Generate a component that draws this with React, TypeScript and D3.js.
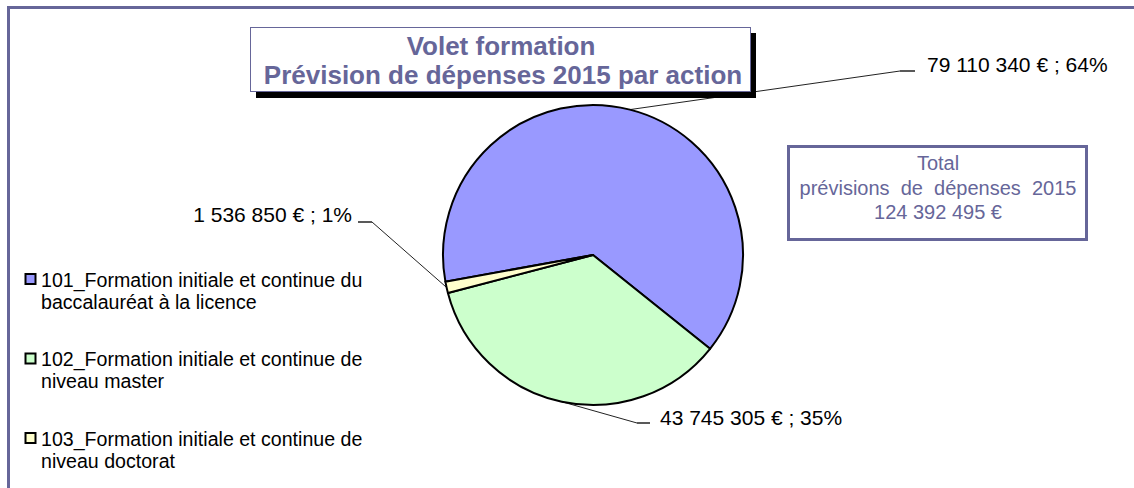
import React from "react";
import * as d3 from "d3";

const categories = [
  "101_Formation initiale et continue du baccalauréat à la licence",
  "102_Formation initiale et continue de niveau master",
  "103_Formation initiale et continue de niveau doctorat",
];
const legendLines = [
  ["101_Formation initiale et continue du", "baccalauréat à la licence"],
  ["102_Formation initiale et continue de", "niveau master"],
  ["103_Formation initiale et continue de", "niveau doctorat"],
];
const values = [79110340, 43745305, 1536850];
const colors = ["#9999FF", "#CCFFCC", "#FFFFCC"];
const titleLines = ["Volet formation", "Prévision de dépenses 2015 par action"];
const totalLines = ["Total", "prévisions  de  dépenses  2015"];

const W = 1134;
const H = 488;
const CX = 593;
const CY = 255;
const R = 150;
const START_DEG = -100.25;
const FRAME = "#666699";
const FONT = "'Liberation Sans', Arial, Helvetica, sans-serif";

// label layout: elbow point (end of slanted leader), horizontal end, text anchor
const labelLayout = [
  { ex: 900, ey: 71, hx: 915, tx: 927, ty: 72, anchor: "start" },
  { ex: 637, ey: 423, hx: 650, tx: 660, ty: 425, anchor: "start" },
  { ex: 372, ey: 222, hx: 358, tx: 352, ty: 222, anchor: "end" },
];

const locale = d3.formatLocale({
  decimal: ",",
  thousands: " ",
  grouping: [3],
  currency: ["", " €"],
});
const fmt = locale.format(",d");

export default function App() {
  const total = d3.sum(values);
  const toRad = (d: number) => (d * Math.PI) / 180;
  const pie = d3
    .pie<number>()
    .sort(null)
    .value((d) => d)
    .startAngle(toRad(START_DEG))
    .endAngle(toRad(START_DEG + 360));
  const arcs = pie(values);
  const arc = d3.arc<d3.PieArcDatum<number>>().innerRadius(0).outerRadius(R);

  return (
    <svg
      width={W}
      height={H}
      style={{ position: "absolute", left: 0, top: 0, display: "block", background: "#fff" }}
      fontFamily={FONT}
    >
      <rect x={0} y={0} width={W} height={H} fill="#fff" />
      {/* outer frame */}
      <rect x={8.5} y={7.5} width={1300} height={700} fill="none" stroke={FRAME} strokeWidth={3} />

      {/* leader lines */}
      {arcs.map((a, i) => {
        const mid = (a.startAngle + a.endAngle) / 2;
        const sx = CX + R * Math.sin(mid);
        const sy = CY - R * Math.cos(mid);
        const L = labelLayout[i];
        return (
          <g key={"l" + i}>
            <line x1={sx} y1={sy} x2={L.ex} y2={L.ey} stroke="#222" strokeWidth={1} />
            <line x1={L.ex} y1={L.ey} x2={L.hx} y2={L.ey} stroke="#222" strokeWidth={1.5} />
          </g>
        );
      })}

      {/* pie */}
      <g transform={`translate(${CX},${CY})`}>
        {arcs.map((a, i) => (
          <path key={i} d={arc(a) || ""} fill={colors[i]} stroke="#000" strokeWidth={2} strokeLinejoin="round" />
        ))}
      </g>

      {/* data labels */}
      {arcs.map((a, i) => {
        const L = labelLayout[i];
        const pct = Math.round((a.value / total) * 100);
        return (
          <text key={"t" + i} x={L.tx} y={L.ty} fontSize={21} fill="#000" textAnchor={L.anchor as any}>
            {`${fmt(a.value)} € ; ${pct}%`}
          </text>
        );
      })}

      {/* title box */}
      <rect x={256} y={33} width={500} height={65} fill="#000" />
      <rect x={250.5} y={27.5} width={500} height={64} fill="#fff" stroke={FRAME} strokeWidth={1} />
      <text x={501} y={55} textAnchor="middle" fontSize={26} fontWeight="bold" fill={FRAME}>
        {titleLines[0]}
      </text>
      <text x={503} y={84} textAnchor="middle" fontSize={26} fontWeight="bold" fill={FRAME}>
        {titleLines[1]}
      </text>

      {/* total box */}
      <rect x={788.5} y={146.5} width={298} height={93} fill="#fff" stroke={FRAME} strokeWidth={3} />
      <text x={938} y={170} textAnchor="middle" fontSize={20} fill={FRAME}>
        {totalLines[0]}
      </text>
      <text x={938} y={195} textAnchor="middle" fontSize={20} fill={FRAME} style={{ whiteSpace: "pre" }}>
        {totalLines[1]}
      </text>
      <text x={938} y={219} textAnchor="middle" fontSize={20} fill={FRAME}>
        {`${fmt(total)} €`}
      </text>

      {/* legend */}
      {legendLines.map((lines, i) => {
        const y0 = 286.5 + i * 79.5;
        return (
          <g key={"lg" + i}>
            <title>{categories[i]}</title>
            <rect x={25.5} y={y0 - 12.5} width={10} height={10} fill={colors[i]} stroke="#000" strokeWidth={2} />
            <text x={41} y={y0} fontSize={19.6} fill="#000">
              {lines[0]}
            </text>
            <text x={41} y={y0 + 22} fontSize={19.6} fill="#000">
              {lines[1]}
            </text>
          </g>
        );
      })}
    </svg>
  );
}
